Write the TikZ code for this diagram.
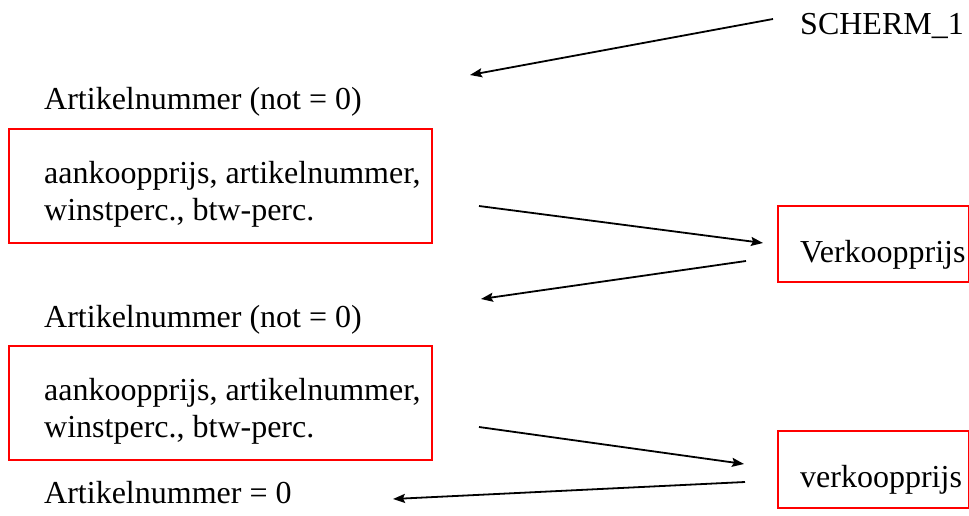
\documentclass[tikz,border=0pt]{standalone}
\usepackage{fontspec}
\setmainfont{Liberation Serif}
\usetikzlibrary{arrows.meta}
\tikzstyle{every node}=[font=\fontsize{32}{37}\selectfont,inner sep=0pt]
\tikzstyle{every path}=[line cap=butt,line join=miter]
\tikzstyle{redbox}=[draw=red,line width=2pt,anchor=north west]
\tikzstyle{txt}=[anchor=base west,align=left]
\tikzstyle{flow}=[line width=1.8pt,-{Stealth[length=12pt,width=9pt,inset=2pt]}]

\begin{document}
\begin{tikzpicture}[x=1pt,y=-1pt]
    \useasboundingbox (0,0) rectangle (969,516);

    % Screen name and the two input prompts
    \node[txt] (scherm) at (800,35) {SCHERM\_1};
    \node[txt] (vraag1) at (44,110) {Artikelnummer (not = 0)};
    \node[txt] (vraag2) at (44,327) {Artikelnummer (not = 0)};
    \node[txt] (stop) at (44,503) {Artikelnummer = 0};

    % Input boxes (left), base anchor sits on the last line
    \node[redbox,minimum width=423pt,minimum height=114pt] (invoer1) at (8,128) {};
    \node[txt] (invoertxt1) at (44,220) {aankoopprijs, artikelnummer,\\winstperc., btw-perc.};
    \node[redbox,minimum width=423pt,minimum height=114pt] (invoer2) at (8,345) {};
    \node[txt] (invoertxt2) at (44,437) {aankoopprijs, artikelnummer,\\winstperc., btw-perc.};

    % Output boxes (right)
    \node[redbox,minimum width=191pt,minimum height=76pt] (uitvoer1) at (777,205) {};
    \node[txt] (uitvoertxt1) at (800,262) {Verkoopprijs};
    \node[redbox,minimum width=191pt,minimum height=77pt] (uitvoer2) at (777,430) {};
    \node[txt] (uitvoertxt2) at (800,487) {verkoopprijs};

    % Arrow end points
    \coordinate (a1) at (773,19);   \coordinate (b1) at (470,75);
    \coordinate (a2) at (479,206);  \coordinate (b2) at (763,243);
    \coordinate (a3) at (746,261);  \coordinate (b3) at (481,299);
    \coordinate (a4) at (479,427);  \coordinate (b4) at (744,464);
    \coordinate (a5) at (745,482);  \coordinate (b5) at (393,499);

    % Flow between the screens
    \draw[flow] (a1) -- (b1);
    \draw[flow] (a2) -- (b2);
    \draw[flow] (a3) -- (b3);
    \draw[flow] (a4) -- (b4);
    \draw[flow] (a5) -- (b5);
\end{tikzpicture}
\end{document}
